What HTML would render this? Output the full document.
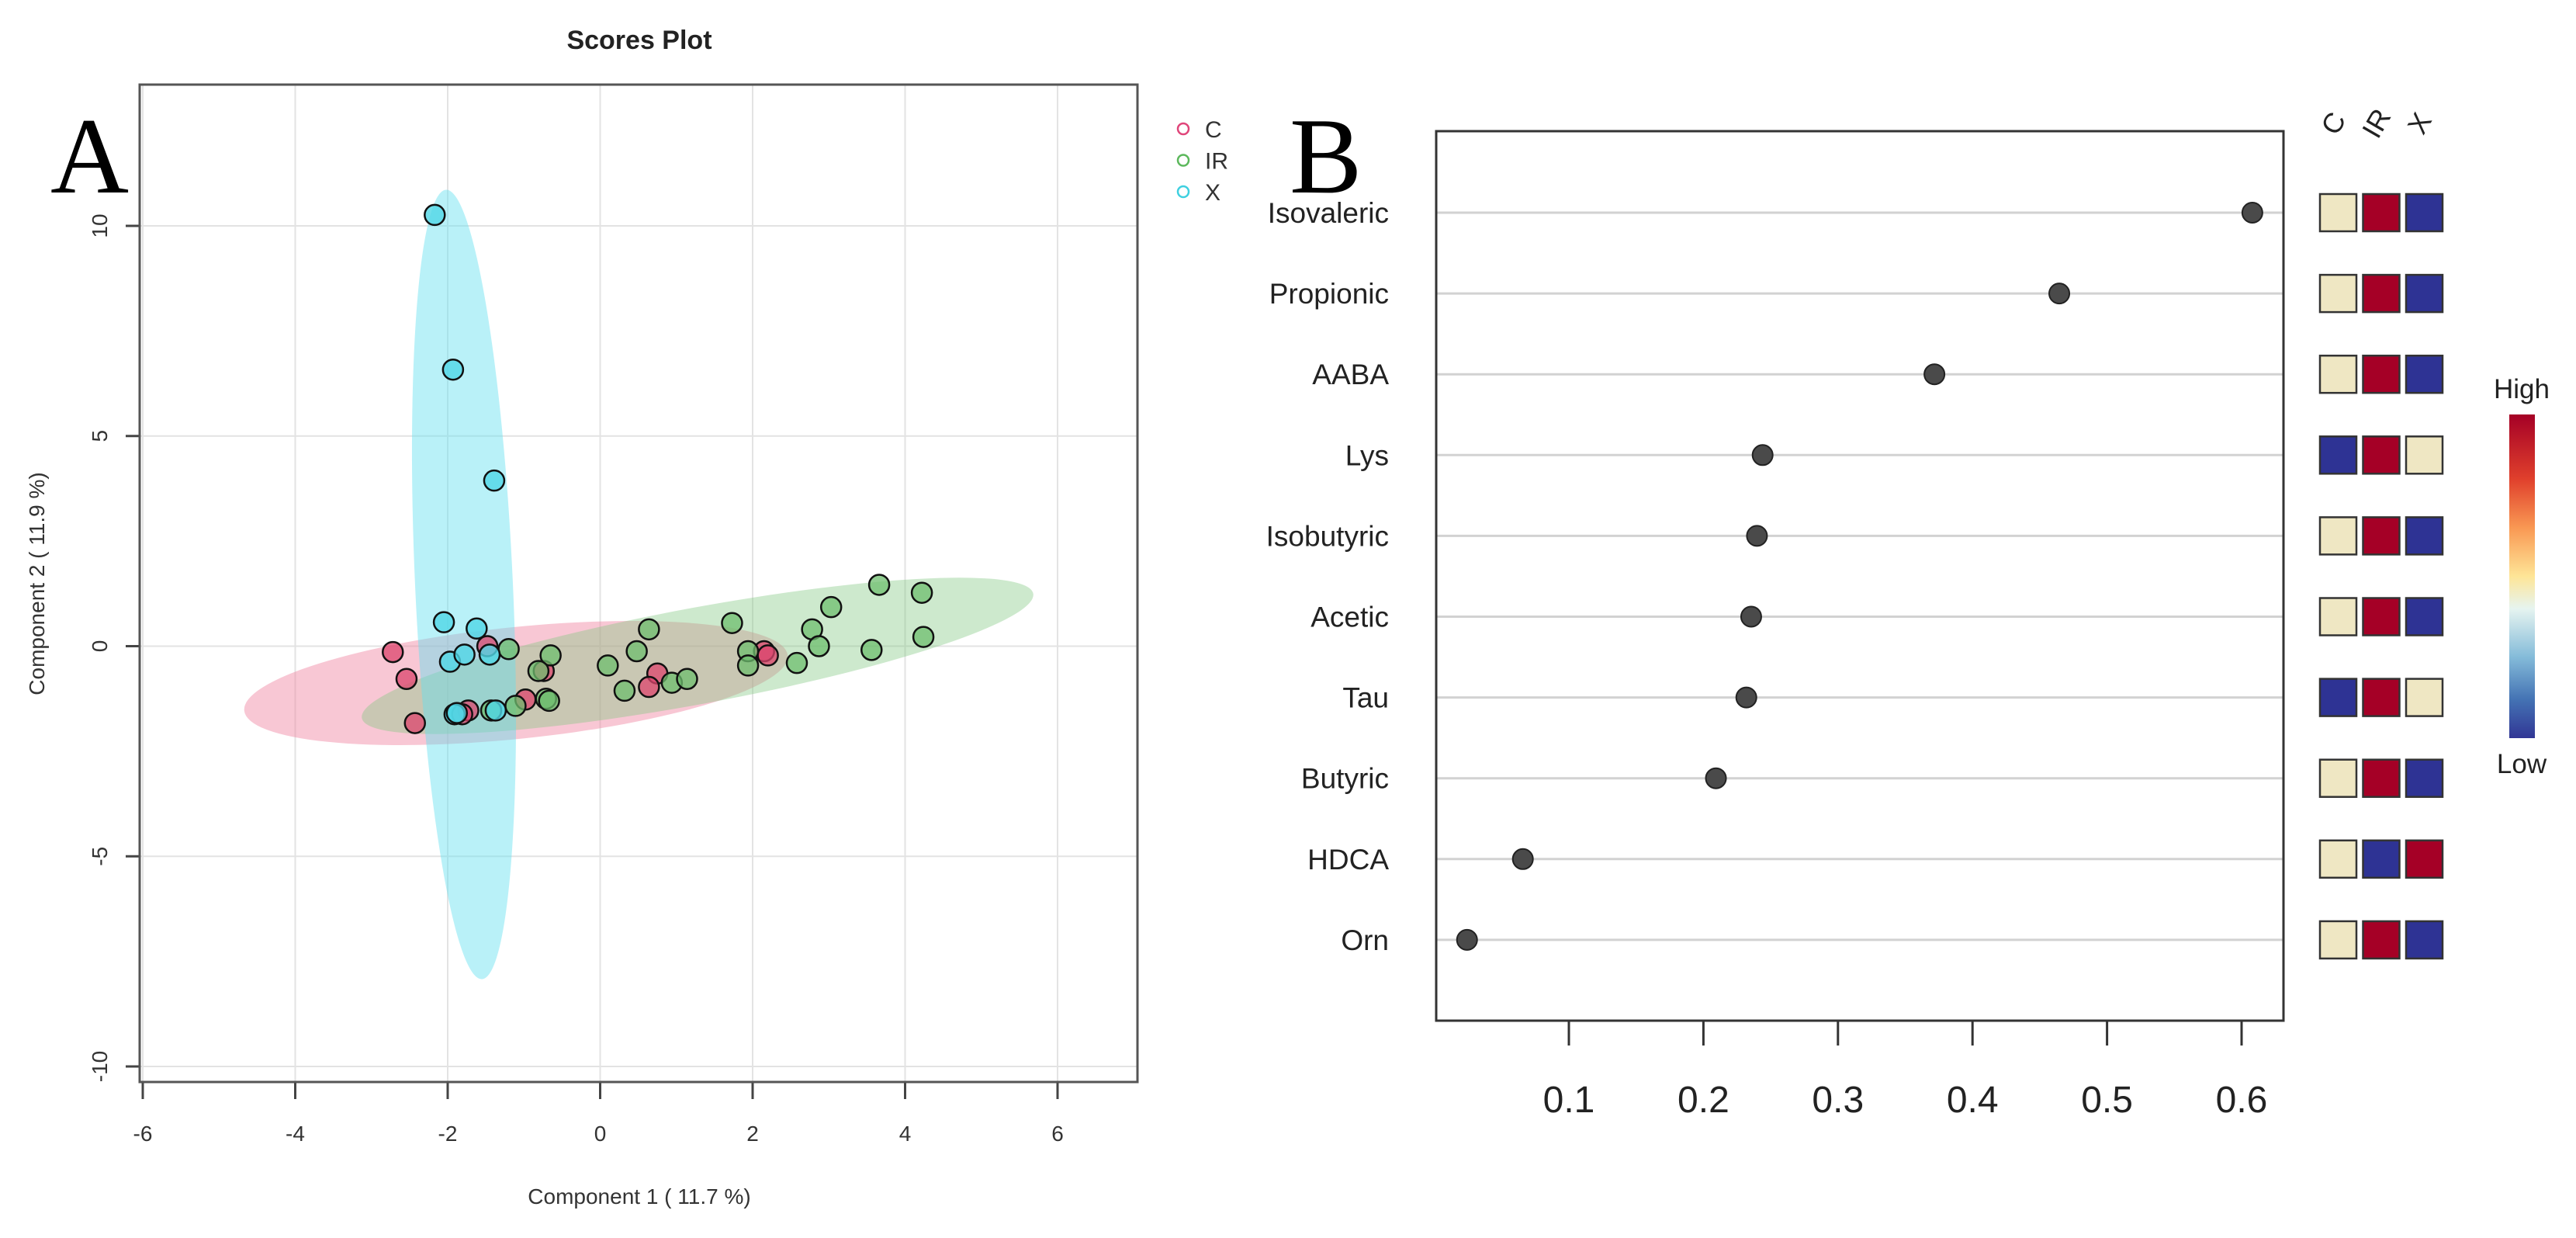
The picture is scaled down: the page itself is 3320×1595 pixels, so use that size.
<!DOCTYPE html>
<html><head><meta charset="utf-8"><style>
html,body{margin:0;padding:0;background:#fff}
svg{display:block}
text{font-family:"Liberation Sans",sans-serif}
</style></head><body>
<svg id="fig" width="3320" height="1595" viewBox="0 0 3320 1595" xmlns="http://www.w3.org/2000/svg">
<g id="panelA"></g>
<g id="panelB"></g>
</svg>
<script>
// ---- Panel A data ----
const aXTicks = [-6,-4,-2,0,2,4,6];
const aYTicks = [-10,-5,0,5,10];
const cX = [-2.72,-2.54,-2.43,-1.48,-1.73,-1.81,-0.98,-0.74,0.75,0.64,2.15,2.2];
const cY = [-0.14,-0.78,-1.83,0,-1.53,-1.62,-1.27,-0.59,-0.65,-0.97,-0.12,-0.22];
const irX = [-1.2,-0.65,-0.81,-0.71,-0.67,-1.11,-1.43,0.1,0.32,0.48,0.64,0.94,1.14,1.73,1.94,1.94,2.58,2.78,2.87,3.03,3.56,3.66,4.22,4.24];
const irY = [-0.07,-0.22,-0.59,-1.25,-1.3,-1.42,-1.53,-0.46,-1.06,-0.12,0.4,-0.87,-0.78,0.55,-0.12,-0.46,-0.4,0.4,0,0.93,-0.09,1.46,1.27,0.22];
const xX = [-2.17,-1.93,-1.39,-2.05,-1.62,-1.97,-1.78,-1.45,-1.91,-1.88,-1.37];
const xY = [10.26,6.58,3.94,0.57,0.42,-0.37,-0.2,-0.2,-1.62,-1.59,-1.53];
// ---- Panel B data ----
const features = ["Isovaleric","Propionic","AABA","Lys","Isobutyric","Acetic","Tau","Butyric","HDCA","Orn"];
const vipValues = [0.608,0.4645,0.3717,0.244,0.2398,0.2355,0.2319,0.2093,0.0658,0.0243];
const bXTicks = [0.1,0.2,0.3,0.4,0.5,0.6];
const groups = ["C","IR","X"];
// heat levels: 0 low, 1 mid, 2 high
const heatC = [1,1,1,0,1,1,0,1,1,1];
const heatIR = [2,2,2,2,2,2,2,2,0,2];
const heatX = [0,0,0,1,0,0,1,0,2,0];

const NS="http://www.w3.org/2000/svg";
function mk(parent,tag,attrs,txt){const e=document.createElementNS(NS,tag);for(const k in attrs)e.setAttribute(k,attrs[k]);if(txt!==undefined)e.textContent=txt;parent.appendChild(e);return e;}

// ===== Panel A =====
const A=document.getElementById('panelA');
const ax=v=>773.5+v*98.25, ay=v=>832.5-v*54.15;
const aL=180,aR=1466,aT=109,aB=1394;
let t=mk(A,'text',{x:824,y:63,'font-size':34,'font-weight':'bold','text-anchor':'middle',fill:'#222'},'Scores Plot');

aXTicks.forEach(v=>{
  let g=mk(A,'line',{x1:ax(v),x2:ax(v),y1:aT,y2:aB,stroke:'#e3e3e3','stroke-width':2});
  
  let k=mk(A,'line',{x1:ax(v),x2:ax(v),y1:aB,y2:aB+22,stroke:'#444','stroke-width':3});
  
  let l=mk(A,'text',{x:ax(v),y:1470,'font-size':28,'text-anchor':'middle',fill:'#333'},String(v));
  
});
aYTicks.forEach(v=>{
  let g=mk(A,'line',{x1:aL,x2:aR,y1:ay(v),y2:ay(v),stroke:'#e3e3e3','stroke-width':2});
  
  let k=mk(A,'line',{x1:aL-18,x2:aL,y1:ay(v),y2:ay(v),stroke:'#444','stroke-width':3});
  
  let l=mk(A,'text',{x:0,y:0,'font-size':28,'text-anchor':'middle',fill:'#333',transform:`translate(138,${ay(v)}) rotate(-90)`},String(v));
  
});
// ellipses
let e1=mk(A,'ellipse',{cx:0,cy:0,rx:352,ry:72,fill:'rgba(240,130,160,0.45)',transform:'translate(665,880) rotate(-5.8)'});

let e2=mk(A,'ellipse',{cx:0,cy:0,rx:440,ry:62,fill:'rgba(130,200,130,0.4)',transform:'translate(899,845) rotate(-10.5)'});

let e3=mk(A,'ellipse',{cx:0,cy:0,rx:63,ry:509,fill:'rgba(100,225,240,0.45)',transform:'translate(598,753) rotate(-2.6)'});

function pts(xs,ys,col,name){xs.forEach((v,i)=>{let c=mk(A,'circle',{cx:ax(v),cy:ay(ys[i]),r:13,fill:col,stroke:'#111','stroke-width':2.5});
  });}
pts(cX,cY,'rgba(220,70,110,0.75)','c-point');
pts(irX,irY,'rgba(110,190,110,0.75)','ir-point');
pts(xX,xY,'rgba(80,215,230,0.8)','x-point');
let bx=mk(A,'rect',{x:aL,y:aT,width:aR-aL,height:aB-aT,fill:'none',stroke:'#555','stroke-width':3});

t=mk(A,'text',{x:824,y:1551,'font-size':28,'text-anchor':'middle',fill:'#333'},'Component 1 ( 11.7 %)');

t=mk(A,'text',{x:0,y:0,'font-size':28,'text-anchor':'middle',fill:'#333',transform:'translate(57,752) rotate(-90)'},'Component 2 ( 11.9 %)');

const legCols=['#e0457a','#5cb85c','#3fd0e0'];
['C','IR','X'].forEach((n,i)=>{
  let c=mk(A,'circle',{cx:1525,cy:166+i*40.5,r:7,fill:'none',stroke:legCols[i],'stroke-width':2.5});
  
  let l=mk(A,'text',{x:1553,y:177+i*40.5,'font-size':30,fill:'#333'},n);
  
});
t=mk(A,'text',{x:65,y:248,'font-size':140,'font-family':'Liberation Serif, serif',fill:'#000',style:'font-family:"Liberation Serif",serif'},'A');


// ===== Panel B =====
const B=document.getElementById('panelB');
const bL=1851,bR=2943,bT=169,bBot=1315;
const bx2=v=>2022+(v-0.1)*1734;
const rowY=i=>274+i*104.1;
const heatColors=['#2e3394','#efe7c3','#a50026'];
features.forEach((f,i)=>{
  let g=mk(B,'line',{x1:bL,x2:bR,y1:rowY(i),y2:rowY(i),stroke:'#d2d2d2','stroke-width':3});
  
  let l=mk(B,'text',{x:1790,y:rowY(i)+13,'font-size':37,'text-anchor':'end',fill:'#222'},f);
  
  let d=mk(B,'circle',{cx:bx2(vipValues[i]),cy:rowY(i),r:13,fill:'#4a4a4a',stroke:'#222','stroke-width':2});
  
  [heatC,heatIR,heatX].forEach((arr,j)=>{
    let s=mk(B,'rect',{x:2990+j*55.5,y:rowY(i)-24,width:47,height:48,fill:heatColors[arr[i]],stroke:'#333','stroke-width':2.5});
    
  });
});
bXTicks.forEach(v=>{
  let k=mk(B,'line',{x1:bx2(v),x2:bx2(v),y1:bBot,y2:bBot+32,stroke:'#333','stroke-width':3});
  
  let l=mk(B,'text',{x:bx2(v),y:1433,'font-size':48,'text-anchor':'middle',fill:'#222'},v.toFixed(1));
  
});
let bx3=mk(B,'rect',{x:bL,y:bT,width:bR-bL,height:bBot-bT,fill:'none',stroke:'#333','stroke-width':3});

groups.forEach((g,j)=>{
  let l=mk(B,'text',{x:0,y:0,'font-size':36,'text-anchor':'middle',fill:'#222',transform:`translate(${3018+j*55.5},${165}) rotate(-60)`},g);
  
});
const defs=mk(B,'defs',{});
const lg=mk(defs,'linearGradient',{id:'cb',x1:0,y1:0,x2:0,y2:1});
[['0','#a50026'],['0.2','#e0402c'],['0.35','#f99853'],['0.5','#fee597'],['0.6','#e6f4f0'],['0.75','#84bbd9'],['0.88','#4473b4'],['1','#313695']].forEach(s=>mk(lg,'stop',{offset:s[0],'stop-color':s[1]}));
let cb=mk(B,'rect',{x:3234,y:534,width:33,height:417,fill:'url(#cb)'});

t=mk(B,'text',{x:3250,y:513,'font-size':35,'text-anchor':'middle',fill:'#222'},'High');

t=mk(B,'text',{x:3250,y:996,'font-size':35,'text-anchor':'middle',fill:'#222'},'Low');

t=mk(B,'text',{x:1662,y:248,'font-size':140,fill:'#000',style:'font-family:"Liberation Serif",serif'},'B');

</script>
</body></html>
